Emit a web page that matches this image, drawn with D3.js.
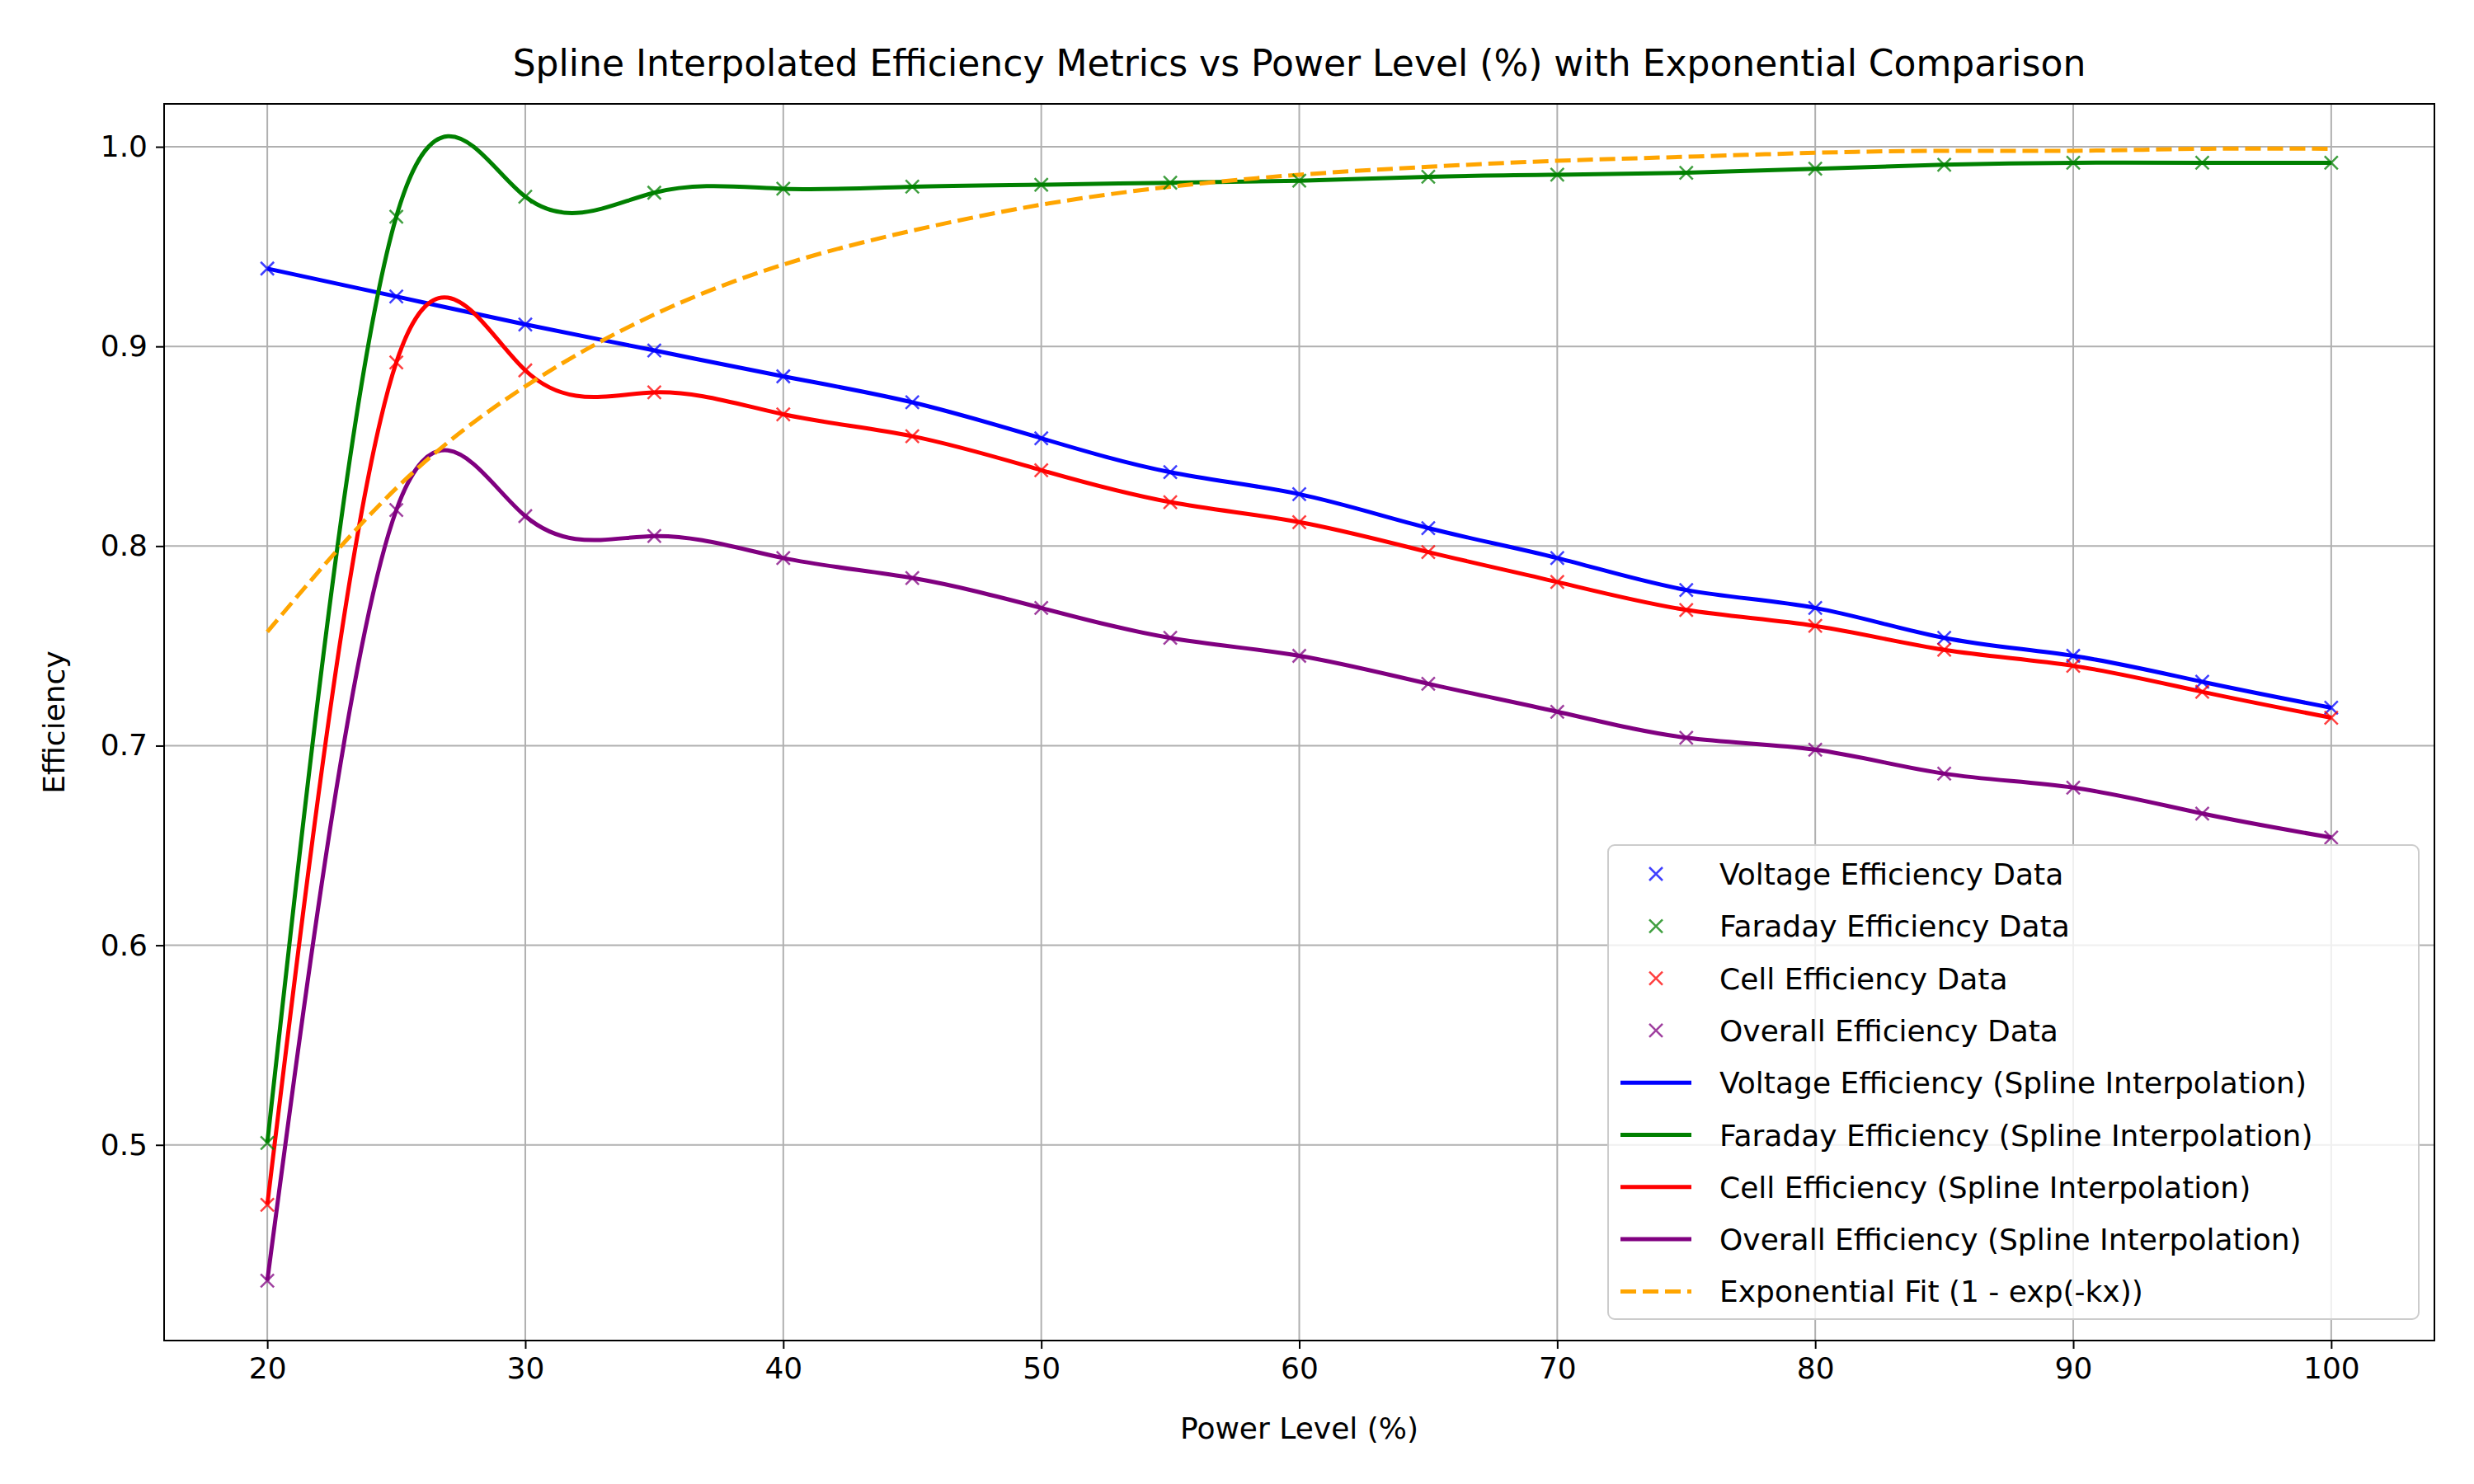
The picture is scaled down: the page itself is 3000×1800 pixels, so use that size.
<!DOCTYPE html>
<html><head><meta charset="utf-8">
<script src="https://cdn.jsdelivr.net/npm/d3@7"></script>
<style>body{margin:0;background:#fff}text{font-family:"DejaVu Sans",sans-serif}</style>
</head><body>
<svg id="c" width="3000" height="1800"></svg>
<script>
const power=[20,25,30,35,40,45,50,55,60,65,70,75,80,85,90,95,100];
const voltage=[0.939,0.925,0.911,0.898,0.885,0.872,0.854,0.837,0.826,0.809,0.794,0.778,0.769,0.754,0.745,0.732,0.719];
const faraday=[0.501,0.965,0.975,0.977,0.979,0.980,0.981,0.982,0.983,0.985,0.986,0.987,0.989,0.991,0.992,0.992,0.992];
const cell=[0.470,0.892,0.888,0.877,0.866,0.855,0.838,0.822,0.812,0.797,0.782,0.768,0.760,0.748,0.740,0.727,0.714];
const overall=[0.432,0.818,0.815,0.805,0.794,0.784,0.769,0.754,0.745,0.731,0.717,0.704,0.698,0.686,0.679,0.666,0.654];
const expFit=[0.757,0.829,0.880,0.916,0.941,0.958,0.971,0.980,0.986,0.990,0.993,0.995,0.997,0.998,0.998,0.999,0.999];
const xTicks=[20,30,40,50,60,70,80,90,100];
const yTicks=[0.5,0.6,0.7,0.8,0.9,1.0];

const L=199,R=2952,T=126,B=1626;
const svg=d3.select("#c");
const x=d3.scaleLinear().domain([16,104]).range([L,R]);
const y=d3.scaleLinear().domain([0.402,1.0215]).range([B,T]);
const g=svg.append("g");
g.selectAll(".gx").data(xTicks).join("line").attr("x1",d=>x(d)).attr("x2",d=>x(d)).attr("y1",T).attr("y2",B).attr("stroke","#b0b0b0").attr("stroke-width",2);
g.selectAll(".gy").data(yTicks).join("line").attr("y1",d=>y(d)).attr("y2",d=>y(d)).attr("x1",L).attr("x2",R).attr("stroke","#b0b0b0").attr("stroke-width",2);
const xa=svg.append("g").attr("transform",`translate(0,${B})`).call(d3.axisBottom(x).tickValues(xTicks).tickFormat(d3.format("d")).tickSize(10).tickPadding(10));
const ya=svg.append("g").attr("transform",`translate(${L},0)`).call(d3.axisLeft(y).tickValues(yTicks).tickFormat(d3.format(".1f")).tickSize(10).tickPadding(10));
[xa,ya].forEach(a=>{a.selectAll("text").attr("font-size",36).attr("fill","#000").attr("font-family","DejaVu Sans");a.selectAll("line").attr("stroke-width",2);a.select(".domain").remove();});
svg.append("rect").attr("x",L).attr("y",T).attr("width",R-L).attr("height",B-T).attr("fill","none").attr("stroke","#000").attr("stroke-width",2);

const series=[["Voltage",voltage,"blue"],["Faraday",faraday,"green"],["Cell",cell,"red"],["Overall",overall,"purple"]];
const line=d3.line().x((d,i)=>x(power[i])).y(d=>y(d)).curve(d3.curveNatural);
series.forEach(([n,v,c])=>{
  svg.append("path").attr("d",line(v)).attr("fill","none").attr("stroke",c).attr("stroke-width",5);
});
svg.append("path").attr("d",line(expFit)).attr("fill","none").attr("stroke","orange").attr("stroke-width",5).attr("stroke-dasharray","19,8");
function cross(sel,cx,cy,c,s){sel.append("path").attr("d",`M${cx-s},${cy-s}L${cx+s},${cy+s}M${cx-s},${cy+s}L${cx+s},${cy-s}`).attr("stroke",c).attr("stroke-width",2.5).attr("opacity",0.75);}
series.forEach(([n,v,c])=>{v.forEach((d,i)=>cross(svg,x(power[i]),y(d),c,8));});

svg.append("text").attr("x",(L+R)/2).attr("y",T-34).attr("text-anchor","middle").attr("font-size",44).text("Spline Interpolated Efficiency Metrics vs Power Level (%) with Exponential Comparison");
svg.append("text").attr("x",(L+R)/2).attr("y",1745).attr("text-anchor","middle").attr("font-size",36).text("Power Level (%)");
svg.append("text").attr("transform",`translate(78,${(T+B)/2}) rotate(-90)`).attr("text-anchor","middle").attr("font-size",36).text("Efficiency");

const leg=svg.append("g");
leg.append("rect").attr("x",1950).attr("y",1025).attr("width",983).attr("height",575).attr("rx",8).attr("fill","#fff").attr("fill-opacity",0.8).attr("stroke","#ccc").attr("stroke-width",2);
const items=[
 ["m","Voltage Efficiency Data","blue"],["m","Faraday Efficiency Data","green"],["m","Cell Efficiency Data","red"],["m","Overall Efficiency Data","purple"],
 ["l","Voltage Efficiency (Spline Interpolation)","blue"],["l","Faraday Efficiency (Spline Interpolation)","green"],["l","Cell Efficiency (Spline Interpolation)","red"],["l","Overall Efficiency (Spline Interpolation)","purple"],
 ["d","Exponential Fit (1 - exp(-kx))","orange"]];
items.forEach(([t,lab,c],i)=>{
  const cy=1060+i*63.3;
  if(t==="m") cross(leg,2008,cy,c,8);
  else {const l=leg.append("line").attr("x1",1965).attr("x2",2051).attr("y1",cy).attr("y2",cy).attr("stroke",c).attr("stroke-width",5); if(t==="d") l.attr("stroke-dasharray","19,8");}
  leg.append("text").attr("x",2085).attr("y",cy+13).attr("font-size",36).text(lab);
});
</script>
</body></html>
